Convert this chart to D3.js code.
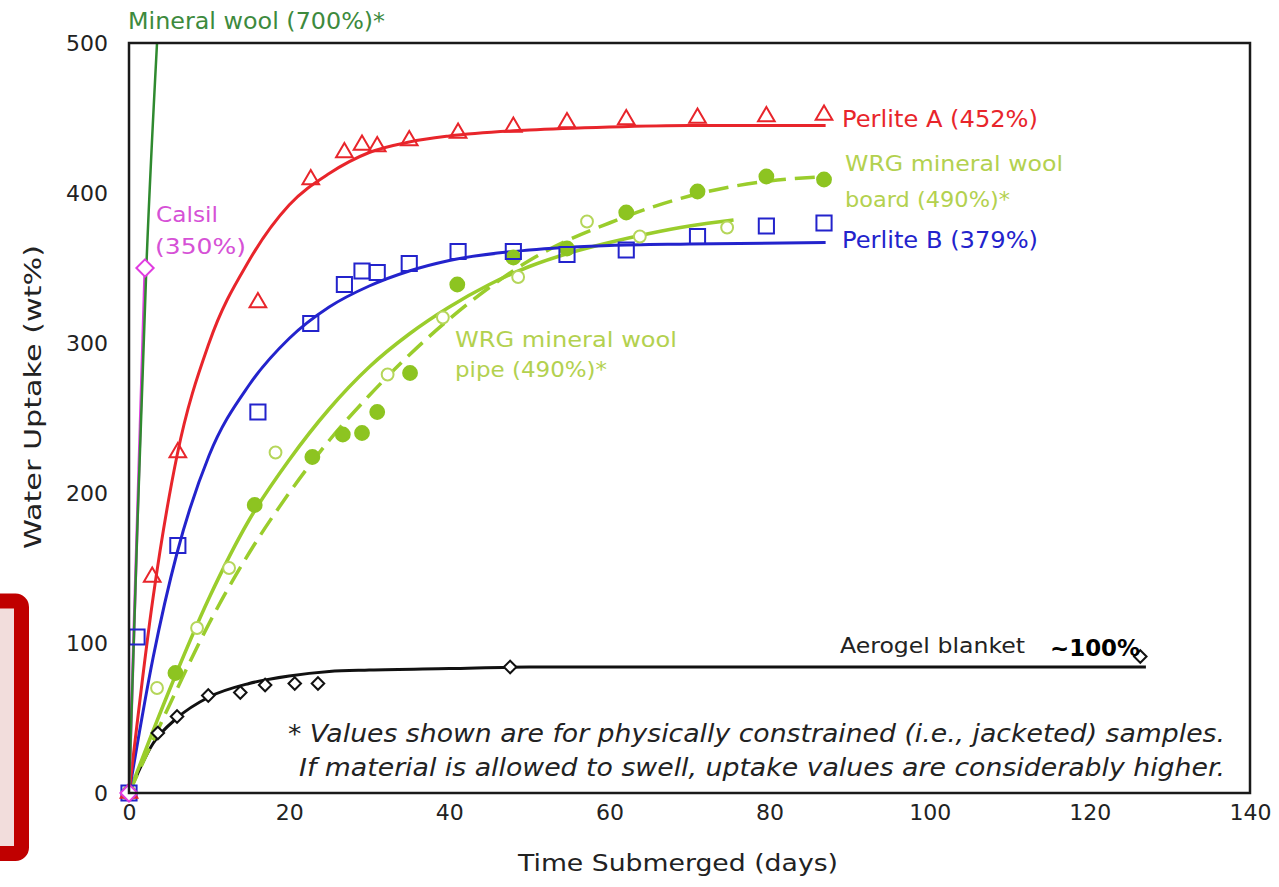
<!DOCTYPE html>
<html><head><meta charset="utf-8">
<script src="https://cdn.jsdelivr.net/npm/d3@7"></script>
<style>
html,body{margin:0;padding:0;background:#fff;}
svg{display:block;}
text{font-family:"DejaVu Sans",Verdana,sans-serif;}
</style></head>
<body>
<svg id="chart" width="1279" height="887"></svg>
<script>
// ---- data ----
const xTicks = [0, 20, 40, 60, 80, 100, 120, 140];
const yTicks = [0, 100, 200, 300, 400, 500];

const mineralWoolDays = [0, 1, 2.2, 3.5];
const mineralWoolVals = [0, 170, 355, 500];

const calsilDays = [0, 2];
const calsilVals = [0, 350];

const perliteADays = [0, 2.9, 6.1, 16.1, 22.7, 26.9, 29.1, 31, 35, 41.1, 48, 54.7, 62.1, 71, 79.6, 86.8];
const perliteAVals = [0, 144, 227, 327, 409, 427, 432, 431, 435, 440, 444, 447, 449, 450, 451, 452];
const perliteAFitDays = [0, 3, 6, 10, 15, 20, 25, 30, 35, 40, 50, 60, 70, 87];
const perliteAFitVals = [0, 130, 225, 300, 355, 392, 413, 427, 434, 438, 442, 444, 445, 445];

const perliteBDays = [0, 1, 6.1, 16.1, 22.7, 26.9, 29.1, 31, 35, 41.1, 48, 54.7, 62.1, 71, 79.6, 86.8];
const perliteBVals = [0, 104, 165, 254, 313, 339, 348, 347, 353, 361, 361, 359, 362, 371, 378, 380];
const perliteBFitDays = [0, 3, 6, 10, 15, 20, 25, 30, 35, 40, 50, 60, 70, 87];
const perliteBFitVals = [0, 90, 160, 225, 272, 303, 324, 338, 348, 355, 362, 365, 366, 367];

const boardDays = [0, 5.8, 15.7, 22.9, 26.7, 29.1, 31, 35.1, 41, 48, 54.7, 62.1, 71, 79.6, 86.8];
const boardVals = [0, 80, 192, 224, 239, 240, 254, 280, 339, 357, 363, 387, 401, 411, 409];
const boardFitDays = [0, 5, 10, 15, 20, 25, 30, 35, 40, 45, 50, 55, 60, 65, 70, 75, 80, 87];
const boardFitVals = [0, 58, 113, 160, 200, 235, 265, 292, 316, 337, 355, 369, 380, 390, 398, 404, 408, 411];

const pipeDays = [0, 3.5, 8.5, 12.5, 18.3, 32.3, 39.2, 48.6, 57.2, 63.8, 74.7];
const pipeVals = [0, 70, 110, 150, 227, 279, 317, 344, 381, 371, 377];
const pipeFitDays = [0, 5, 10, 15, 20, 25, 30, 35, 40, 45, 50, 55, 60, 65, 70, 75.5];
const pipeFitVals = [0, 68, 130, 182, 222, 256, 284, 306, 324, 339, 351, 360, 367, 373, 378, 382];

const aerogelDays = [0, 3.6, 6, 9.9, 13.9, 17, 20.7, 23.6, 47.6, 126.3];
const aerogelVals = [0, 40, 51, 65, 67, 72, 73, 73, 84, 91];
const aerogelFitDays = [0, 3, 6, 10, 15, 20, 25, 30, 40, 50, 127];
const aerogelFitVals = [0, 33, 50, 64, 73, 78, 81, 82, 83, 84, 84];

// ---- drawing ----
const svg = d3.select("#chart");
const x = d3.scaleLinear().domain([0, 140]).range([129, 1250]);
const y = d3.scaleLinear().domain([0, 500]).range([793, 43]);
const zip = (a, b) => a.map((d, i) => [d, b[i]]);

svg.append("rect").attr("width", 1279).attr("height", 887).attr("fill", "#fff");

svg.append("defs").append("clipPath").attr("id", "plotclip")
  .append("rect").attr("x", 129).attr("y", 43).attr("width", 1121).attr("height", 750);

// highlighted box at left
svg.append("rect").attr("x", -30).attr("y", 601).attr("width", 51.5).attr("height", 252.5)
  .attr("rx", 6).attr("fill", "#f2dddc").attr("stroke", "#c00000").attr("stroke-width", 15);

// axes
const xAxis = d3.axisBottom(x).tickValues(xTicks).tickSize(0).tickPadding(11);
const yAxis = d3.axisLeft(y).tickValues(yTicks).tickSize(0).tickPadding(21);
const gx = svg.append("g").attr("transform", "translate(0,793)").call(xAxis);
const gy = svg.append("g").attr("transform", "translate(129,0)").call(yAxis);
[gx, gy].forEach(g => {
  g.select(".domain").remove();
  g.selectAll("text").attr("font-size", 22).attr("fill", "#222")
    .attr("font-family", '"DejaVu Sans", Verdana, sans-serif');
});

const plot = svg.append("g").attr("clip-path", "url(#plotclip)");
const line = d3.line().x(d => x(d[0])).y(d => y(d[1])).curve(d3.curveMonotoneX);
const straight = d3.line().x(d => x(d[0])).y(d => y(d[1]));

const cRed = "#e8252b", cBlue = "#2323cc", cMag = "#e03ce0", cGreen = "#2f8a2f",
      cYG = "#9acd2c", cYGtext = "#b3d14f";

// fit lines
plot.append("path").attr("d", line(zip(aerogelFitDays, aerogelFitVals))).attr("fill", "none").attr("stroke", "#111").attr("stroke-width", 3);
plot.append("path").attr("d", line(zip(pipeFitDays, pipeFitVals))).attr("fill", "none").attr("stroke", cYG).attr("stroke-width", 3.5);
plot.append("path").attr("d", line(zip(boardFitDays, boardFitVals))).attr("fill", "none").attr("stroke", cYG).attr("stroke-width", 3.5).attr("stroke-dasharray", "20,9");
plot.append("path").attr("d", line(zip(perliteBFitDays, perliteBFitVals))).attr("fill", "none").attr("stroke", cBlue).attr("stroke-width", 3);
plot.append("path").attr("d", line(zip(perliteAFitDays, perliteAFitVals))).attr("fill", "none").attr("stroke", cRed).attr("stroke-width", 3);
plot.append("path").attr("d", straight(zip(calsilDays, calsilVals))).attr("fill", "none").attr("stroke", cMag).attr("stroke-width", 3);
plot.append("path").attr("d", line(zip(mineralWoolDays, mineralWoolVals))).attr("fill", "none").attr("stroke", cGreen).attr("stroke-width", 2.5);

// markers
const mk = svg.append("g");
function markers(days, vals, type, size, stroke, fill) {
  mk.append("g").selectAll("path").data(zip(days, vals)).join("path")
    .attr("transform", d => `translate(${x(d[0])},${y(d[1])})`)
    .attr("d", d3.symbol().type(type).size(size))
    .attr("fill", fill).attr("stroke", stroke).attr("stroke-width", 2);
}
markers(aerogelDays, aerogelVals, d3.symbolDiamond2, 100, "#111", "#fff");
markers(pipeDays, pipeVals, d3.symbolCircle, 110, "#b5d65a", "#fff");
markers(boardDays, boardVals, d3.symbolCircle, 150, "#8dc421", "#8dc421");
markers(perliteBDays, perliteBVals, d3.symbolSquare, 230, cBlue, "none");
markers(perliteADays, perliteAVals, d3.symbolTriangle, 120, cRed, "none");
markers(calsilDays, calsilVals, d3.symbolDiamond2, 190, cMag, "#fff");

// frame
svg.append("rect").attr("x", 129).attr("y", 43).attr("width", 1121).attr("height", 750)
  .attr("fill", "none").attr("stroke", "#1a1a1a").attr("stroke-width", 2.5);

// labels
function label(txt, px, py, color, size, width, opts = {}) {
  const t = svg.append("text").attr("x", px).attr("y", py).text(txt)
    .attr("fill", color).attr("font-size", size);
  if (opts.anchor) t.attr("text-anchor", opts.anchor);
  if (opts.weight) t.attr("font-weight", opts.weight);
  if (opts.style) t.attr("font-style", opts.style);
  if (opts.family) t.attr("font-family", opts.family);
  if (width) t.attr("textLength", width).attr("lengthAdjust", "spacingAndGlyphs");
  return t;
}
label("Mineral wool (700%)*", 128, 29, "#3d8a3d", 23, 257);
label("Calsil", 156, 222, "#d651d6", 22, 62);
label("(350%)", 155, 254, "#d651d6", 22, 91);
label("Perlite A (452%)", 842, 127, cRed, 23, 196);
label("WRG mineral wool", 845, 171, cYGtext, 22, 218);
label("board (490%)*", 845, 207, cYGtext, 22, 165);
label("Perlite B (379%)", 842, 248, cBlue, 23, 196);
label("WRG mineral wool", 455, 347, cYGtext, 22, 222);
label("pipe (490%)*", 455, 377, cYGtext, 22, 152);
label("Aerogel blanket", 840, 653, "#222", 22, 185);
label("~100%", 1050, 656, "#000", 23, 90, {weight: "bold", family: '"Liberation Sans", Arial, sans-serif'});
label("* Values shown are for physically constrained (i.e., jacketed) samples.", 1225, 742, "#222", 24, 937, {anchor: "end", style: "italic"});
label("If material is allowed to swell, uptake values are considerably higher.", 1225, 776, "#222", 24, 926, {anchor: "end", style: "italic"});

// axis titles
label("Time Submerged (days)", 678, 871, "#222", 23, 320, {anchor: "middle"});
svg.append("text").attr("transform", "translate(41,397) rotate(-90)")
  .attr("text-anchor", "middle").attr("font-size", 23).attr("fill", "#222")
  .attr("textLength", 304).attr("lengthAdjust", "spacingAndGlyphs")
  .text("Water Uptake (wt%)");
</script>
</body></html>
